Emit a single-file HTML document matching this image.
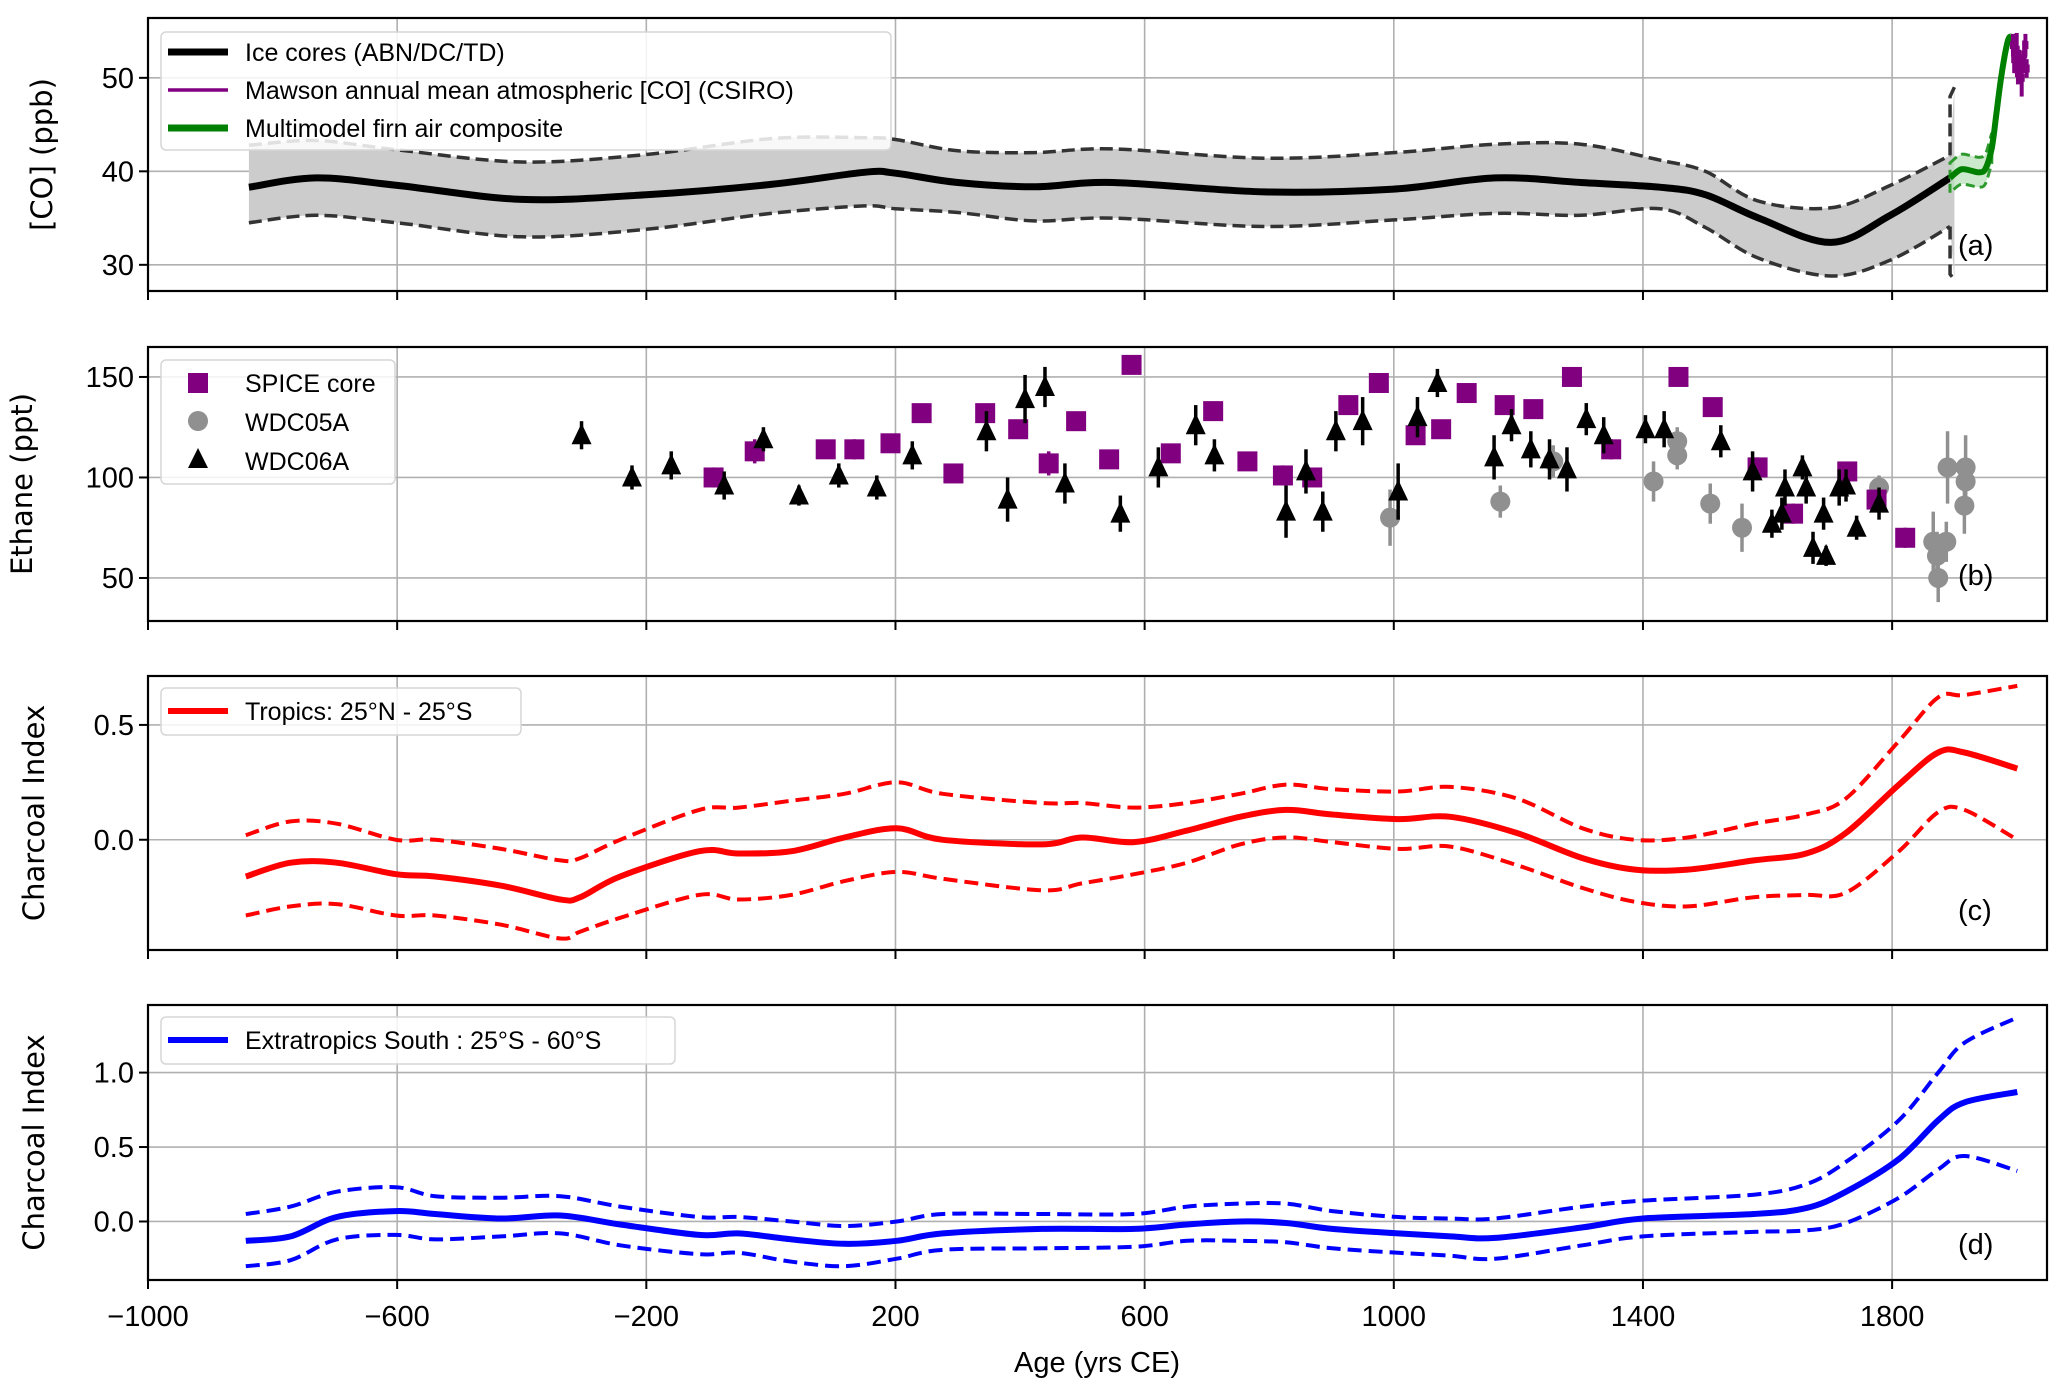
<!DOCTYPE html>
<html><head><meta charset="utf-8"><style>
html,body{margin:0;padding:0;background:#fff;}
svg{display:block;font-family:"DejaVu Sans","Liberation Sans",sans-serif;}
.tk{font-family:"Liberation Sans",sans-serif;font-size:29px;fill:#000;}
.lg{font-family:"Liberation Sans",sans-serif;font-size:25px;fill:#000;}
</style></head><body>
<svg id="chart" width="2067" height="1398" viewBox="0 0 2067 1398" xmlns="http://www.w3.org/2000/svg"></svg>
<script>
// ---------- data ----------
const xTicks = [-1000,-600,-200,200,600,1000,1400,1800];
const coYears = [-838,-730,-600,-400,-200,0,150,200,300,422,549,792,1000,1163,1300,1427,1500,1586,1702,1797,1893];
const coMean  = [38.3,39.3,38.5,37.0,37.5,38.6,39.9,39.8,38.8,38.35,38.8,37.8,38.1,39.3,38.8,38.3,37.5,35.0,32.4,35.3,39.3];
const coUpper = [42.8,43.3,42.3,41.0,41.8,43.5,43.6,43.4,42.2,42.0,42.4,41.4,42.0,42.9,42.9,41.2,40.0,36.8,36.1,38.5,41.7];
const coLower = [34.5,35.3,34.5,33.0,33.8,35.5,36.3,36.0,35.6,34.7,35.0,34.1,34.8,35.5,35.3,36.0,34.0,30.7,28.8,30.5,34.1];
const firnYears = [1893,1910,1925,1940,1950,1960,1968,1976,1986,1993];
const firnVals  = [39.3,40.2,40.1,39.9,40.3,42.5,46.5,50.5,54.0,54.4];
const mawsonYears = [1994,1996,1998,2000,2002,2004,2006,2008,2010,2012,2014,2016];
const mawsonVals  = [53.5,52.0,51.5,53.0,50.5,52.0,51.0,50.0,51.5,52.5,53.5,51.0];
const mawsonErr   = [1.2,1.5,1.0,1.8,1.2,1.0,1.5,2.0,1.0,1.5,1.2,1.0];

const spiceYears = [-92,-26,88,134,192,242,293,344,397,446,490,543,579,642,710,765,822,869,927,976,1035,1076,1117,1178,1224,1286,1349,1457,1512,1584,1641,1728,1775,1821];
const spiceVals  = [100,113,114,114,117,132,102,132,124,107,128,109,156,112,133,108,101,100,136,147,121,124,142,136,134,150,114,150,135,105,82,103,89,70];
const spiceErr   = [5,6,4,5,4,3,4,4,3,6,3,3,3,4,4,3,5,4,4,4,4,3,4,3,4,4,5,4,4,5,5,4,5,5];
const wdc05Years = [994,1171,1256,1417,1455,1455,1508,1559,1779,1866,1872,1874,1887,1889,1918,1918,1916];
const wdc05Vals  = [80,88,108,98,118,111,87,75,95,68,61,50,68,105,105,98,86];
const wdc05Err   = [14,8,8,10,7,7,10,12,6,15,12,12,10,18,16,12,14];
const wdc06Years = [-304,-223,-160,-75,-12,45,109,170,227,346,380,408,440,472,561,622,682,712,827,859,886,907,950,1007,1038,1070,1161,1189,1220,1250,1278,1309,1337,1404,1434,1525,1576,1607,1623,1628,1656,1662,1673,1694,1690,1715,1726,1743,1779];
const wdc06Vals  = [121,100,106,96,119,91,101,95,111,123,89,139,145,97,82,105,126,111,83,103,83,123,128,93,130,147,110,126,114,109,104,129,121,124,124,118,103,77,82,95,105,95,65,61,82,95,96,75,87];
const wdc06Err   = [7,6,7,7,6,5,6,6,7,10,11,12,10,10,9,10,10,8,13,11,10,10,12,14,10,7,11,8,9,10,11,8,9,7,9,8,10,7,8,9,6,8,8,5,8,9,8,6,8];

const chYears = [-843,-771,-697,-602,-539,-433,-338,-306,-242,-115,-52,33,118,202,276,435,499,583,668,753,827,901,1007,1091,1197,1303,1387,1472,1578,1662,1726,1811,1874,1916,2001];
const tropMean  = [-0.16,-0.10,-0.10,-0.15,-0.16,-0.20,-0.26,-0.25,-0.16,-0.05,-0.06,-0.05,0.01,0.05,0.0,-0.02,0.01,-0.01,0.04,0.10,0.13,0.11,0.09,0.10,0.03,-0.08,-0.13,-0.13,-0.09,-0.06,0.03,0.24,0.38,0.38,0.31];
const tropUpper = [0.02,0.08,0.07,0.0,0.0,-0.04,-0.09,-0.08,0.0,0.13,0.14,0.17,0.20,0.25,0.20,0.16,0.16,0.14,0.16,0.20,0.24,0.22,0.21,0.23,0.18,0.05,0.0,0.01,0.07,0.11,0.18,0.43,0.62,0.63,0.67];
const tropLower = [-0.33,-0.29,-0.28,-0.33,-0.33,-0.37,-0.43,-0.40,-0.34,-0.24,-0.26,-0.24,-0.18,-0.14,-0.17,-0.22,-0.19,-0.15,-0.10,-0.02,0.01,-0.01,-0.04,-0.03,-0.11,-0.21,-0.27,-0.29,-0.25,-0.24,-0.23,-0.05,0.12,0.13,0.0];

const exYears = [-843,-771,-697,-602,-539,-433,-338,-242,-115,-52,33,118,202,276,435,583,668,753,827,901,1007,1091,1163,1303,1400,1578,1662,1726,1811,1874,1916,2001];
const exMean  = [-0.13,-0.10,0.03,0.07,0.05,0.02,0.04,-0.02,-0.09,-0.08,-0.12,-0.15,-0.13,-0.08,-0.05,-0.05,-0.02,0.0,-0.01,-0.05,-0.08,-0.10,-0.11,-0.04,0.02,0.05,0.09,0.20,0.42,0.68,0.80,0.87];
const exUpper = [0.05,0.10,0.20,0.23,0.17,0.16,0.17,0.10,0.03,0.03,0.0,-0.03,0.0,0.05,0.05,0.05,0.10,0.12,0.12,0.07,0.03,0.02,0.02,0.10,0.14,0.18,0.25,0.40,0.68,1.00,1.20,1.37];
const exLower = [-0.30,-0.26,-0.12,-0.09,-0.12,-0.10,-0.08,-0.16,-0.22,-0.21,-0.27,-0.30,-0.25,-0.19,-0.18,-0.17,-0.13,-0.13,-0.14,-0.18,-0.21,-0.23,-0.25,-0.16,-0.10,-0.07,-0.06,-0.01,0.16,0.35,0.44,0.34];

// ---------- layout ----------
const svg = document.getElementById('chart');
const NS = 'http://www.w3.org/2000/svg';
const L = 148, R = 2047;
const X = y => L + (y + 1000) * 0.6229;
function el(tag, attrs, parent){ const e=document.createElementNS(NS,tag); for(const k in attrs) e.setAttribute(k,attrs[k]); (parent||svg).appendChild(e); return e; }
function smooth(pts){
  let d='M'+pts[0][0].toFixed(1)+','+pts[0][1].toFixed(1);
  for(let i=0;i<pts.length-1;i++){
    const p0=pts[Math.max(0,i-1)],p1=pts[i],p2=pts[i+1],p3=pts[Math.min(pts.length-1,i+2)];
    const c1=[p1[0]+(p2[0]-p0[0])/6,p1[1]+(p2[1]-p0[1])/6], c2=[p2[0]-(p3[0]-p1[0])/6,p2[1]-(p3[1]-p1[1])/6];
    d+=' C'+c1[0].toFixed(1)+','+c1[1].toFixed(1)+' '+c2[0].toFixed(1)+','+c2[1].toFixed(1)+' '+p2[0].toFixed(1)+','+p2[1].toFixed(1);
  }
  return d;
}
function panel(name, top, bot, vmin, vmax, yticks, fmt, ylabel, tag, tagY){
  const Y = v => bot - (v - vmin) / (vmax - vmin) * (bot - top);
  const g = el('g', {});
  
  
  xTicks.forEach(t=>{ el('line',{x1:X(t),x2:X(t),y1:top,y2:bot,stroke:'#b0b0b0','stroke-width':1.6},g);
    el('line',{x1:X(t),x2:X(t),y1:bot,y2:bot+9,stroke:'#000','stroke-width':2},g); });
  yticks.forEach(t=>{ el('line',{x1:L,x2:R,y1:Y(t),y2:Y(t),stroke:'#b0b0b0','stroke-width':1.6},g);
    el('line',{x1:L-9,x2:L,y1:Y(t),y2:Y(t),stroke:'#000','stroke-width':2},g);
    const tx=el('text',{x:L-14,y:Y(t)+10,'text-anchor':'end',class:'tk'},g); tx.textContent=fmt(t);
    
     });
  const yl=el('text',{x:0,y:0,'font-size':29,'text-anchor':'middle',transform:`translate(${ylabel[1]},${(top+bot)/2}) rotate(-90)`},g);
  yl.textContent=ylabel[0];
  
  
  const tg=el('text',{x:1958,y:tagY,class:'tk'},g); tg.textContent=tag;
  
  
  return {g,Y,top,bot};
}
function frame(p){ const f=el('rect',{x:L,y:p.top,width:R-L,height:p.bot-p.top,fill:'none',stroke:'#000','stroke-width':2.2},p.g);
  
   }
function legendBox(g,x,y,w,h){ el('rect',{x,y,width:w,height:h,rx:5,fill:'#fff','fill-opacity':0.85,stroke:'#d6d6d6','stroke-width':1.5},g); }

// ---------- panel a ----------
const pa = panel('co-panel', 18, 291, 27.2, 56.4, [30,40,50], v=>v, ['[CO] (ppb)',52], '(a)', 255);
{
  const Y=pa.Y;
  const up=coYears.map((t,i)=>[X(t),Y(coUpper[i])]), lo=coYears.map((t,i)=>[X(t),Y(coLower[i])]);
  const band=el('path',{d:smooth(up)+' L'+X(1900)+','+Y(49)+' L'+X(1900)+','+Y(28.4)+' L'+lo[lo.length-1][0]+','+lo[lo.length-1][1]+' '+smooth(lo.slice().reverse()).replace('M','L')+' Z',fill:'#cccccc',stroke:'none'},pa.g);
  
  
  [up,lo].forEach(p=>{ const e=el('path',{d:smooth(p),fill:'none',stroke:'#333','stroke-width':3.5,'stroke-dasharray':'13,6'},pa.g);
    
     });
  el('path',{d:`M${up[up.length-1][0]},${up[up.length-1][1]} L${X(1893)},${Y(48)} L${X(1900)},${Y(49)} M${lo[lo.length-1][0]},${lo[lo.length-1][1]} L${X(1893)},${Y(29)} L${X(1900)},${Y(28.4)}`,fill:'none',stroke:'#333','stroke-width':3.5,'stroke-dasharray':'13,6'},pa.g);
  const m=el('path',{d:smooth(coYears.map((t,i)=>[X(t),Y(coMean[i])])),fill:'none',stroke:'#000','stroke-width':7},pa.g);
  
  
  // firn band
  const fu=firnYears.slice(0,6).map((t,i)=>[X(t),Y(firnVals[i]+1.6)]), fl=firnYears.slice(0,6).map((t,i)=>[X(t),Y(firnVals[i]-1.6)]);
  const fb=el('path',{d:smooth(fu)+' '+smooth(fl.reverse()).replace('M','L')+' Z',fill:'#b8e0b8','fill-opacity':0.7,stroke:'#2e9a2e','stroke-width':3,'stroke-dasharray':'9,5'},pa.g);
  
  
  const fl2=el('path',{d:smooth(firnYears.map((t,i)=>[X(t),Y(firnVals[i])])),fill:'none',stroke:'#008000','stroke-width':6},pa.g);
  
  
  mawsonYears.forEach((t,i)=>{ const e=el('line',{x1:X(t),x2:X(t),y1:Y(mawsonVals[i]+mawsonErr[i]),y2:Y(mawsonVals[i]-mawsonErr[i]),stroke:'#800080','stroke-width':4},pa.g);
    
    
    el('rect',{x:X(t)-3,y:Y(mawsonVals[i])-4,width:6,height:8,fill:'#800080'},pa.g); });
  frame(pa);
  const lg=el('g',{},pa.g);
  
  
  legendBox(lg,161,32,730,118);
  [['Ice cores (ABN/DC/TD)','#000',7],['Mawson annual mean atmospheric [CO] (CSIRO)','#800080',3.5],['Multimodel firn air composite','#008000',7]].forEach((e,i)=>{
    const y=52+i*38; el('line',{x1:168,x2:228,y1:y,y2:y,stroke:e[1],'stroke-width':e[2]},lg);
    const t=el('text',{x:245,y:y+9,class:'lg'},lg); t.textContent=e[0];
    
     });
}
// ---------- panel b ----------
const pb = panel('ethane-panel', 347, 621, 28.6, 164.9, [50,100,150], v=>v, ['Ethane (ppt)',32], '(b)', 585);
{
  const Y=pb.Y;
  wdc05Years.forEach((t,i)=>{ const g=el('g',{},pb.g);
    
    
    el('line',{x1:X(t),x2:X(t),y1:Y(wdc05Vals[i]+wdc05Err[i]),y2:Y(wdc05Vals[i]-wdc05Err[i]),stroke:'#909090','stroke-width':3.5},g);
    el('circle',{cx:X(t),cy:Y(wdc05Vals[i]),r:10,fill:'#909090'},g); });
  spiceYears.forEach((t,i)=>{ const g=el('g',{},pb.g);
    
    
    el('line',{x1:X(t),x2:X(t),y1:Y(spiceVals[i]+spiceErr[i]),y2:Y(spiceVals[i]-spiceErr[i]),stroke:'#800080','stroke-width':3.5},g);
    el('rect',{x:X(t)-10,y:Y(spiceVals[i])-10,width:20,height:20,fill:'#800080'},g); });
  wdc06Years.forEach((t,i)=>{ const g=el('g',{},pb.g);
    
    
    const x=X(t),y=Y(wdc06Vals[i]);
    el('line',{x1:x,x2:x,y1:Y(wdc06Vals[i]+wdc06Err[i]),y2:Y(wdc06Vals[i]-wdc06Err[i]),stroke:'#000','stroke-width':3.5},g);
    el('polygon',{points:`${x},${y-12} ${x-10},${y+9} ${x+10},${y+9}`,fill:'#000'},g); });
  frame(pb);
  const lg=el('g',{},pb.g);
  
  
  legendBox(lg,161,360,234,124);
  el('rect',{x:188,y:373,width:20,height:20,fill:'#800080'},lg);
  el('circle',{cx:198,cy:421,r:10,fill:'#909090'},lg);
  el('polygon',{points:'198,448 188,468 208,468',fill:'#000'},lg);
  ['SPICE core','WDC05A','WDC06A'].forEach((s,i)=>{ const t=el('text',{x:245,y:392+i*39,class:'lg'},lg); t.textContent=s;
    
     });
}
// ---------- panels c, d ----------
function charcoal(p, yrs, mean, upr, lwr, col, label, lgW, lgY){
  const Y=p.Y;
  [upr,lwr].forEach(a=>{ const e=el('path',{d:smooth(yrs.map((t,i)=>[X(t),Y(a[i])])),fill:'none',stroke:col,'stroke-width':4,'stroke-dasharray':'14,7'},p.g);
    
     });
  const m=el('path',{d:smooth(yrs.map((t,i)=>[X(t),Y(mean[i])])),fill:'none',stroke:col,'stroke-width':6},p.g);
  
  
  frame(p);
  const lg=el('g',{},p.g);
  
  
  legendBox(lg,161,lgY,lgW,47);
  el('line',{x1:168,x2:228,y1:lgY+23,y2:lgY+23,stroke:col,'stroke-width':6},lg);
  const t=el('text',{x:245,y:lgY+32,class:'lg'},lg); t.textContent=label;
  
  
}
const pc = panel('tropics-charcoal-panel', 676, 950, -0.48, 0.713, [0.0,0.5], v=>v.toFixed(1), ['Charcoal Index',44], '(c)', 920);
charcoal(pc, chYears, tropMean, tropUpper, tropLower, '#ff0000', 'Tropics: 25°N - 25°S', 360, 688);
const pd = panel('extratropics-charcoal-panel', 1005, 1280, -0.393, 1.454, [0.0,0.5,1.0], v=>v.toFixed(1), ['Charcoal Index',44], '(d)', 1254);
charcoal(pd, exYears, exMean, exUpper, exLower, '#0000ff', 'Extratropics South : 25°S - 60°S', 514, 1017);
// x tick labels
xTicks.forEach(t=>{ const tx=el('text',{x:X(t),y:1326,'text-anchor':'middle',class:'tk'}); tx.textContent=(t<0?'\u2212'+(-t):t);
  
   });
const xl=el('text',{x:1097,y:1372,'text-anchor':'middle',class:'tk'}); xl.textContent='Age (yrs CE)';


</script>
</body></html>
